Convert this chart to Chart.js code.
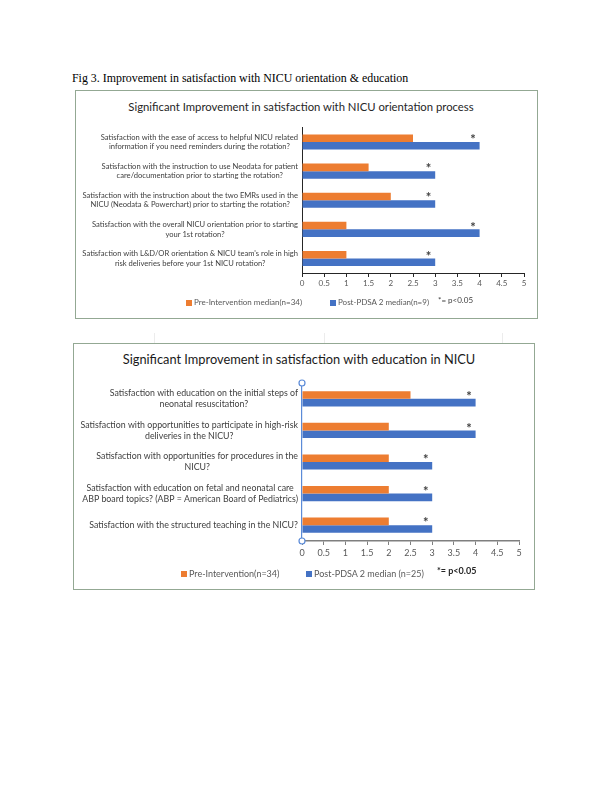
<!DOCTYPE html>
<html>
<head>
<meta charset="utf-8">
<script src="https://cdn.jsdelivr.net/npm/chart.js@4.4.1/dist/chart.umd.min.js"></script>
<style>
  body { margin:0; background:#fff; width:612px; height:792px; position:relative; font-family: Lato, sans-serif; }
  .abs { position:absolute; }
  .caption { left:72px; top:71px; font-family:"Liberation Serif", serif; font-size:11.9px; color:#000; white-space:nowrap; }
  .box { border:1.5px solid #93a893; box-sizing:border-box; }
  .cell { width:1px; height:10px; background:#ececec; top:333px; }
  .title { text-align:center; color:#262626; white-space:nowrap; }
  .leg { color:#595959; white-space:nowrap; }
  .sq { width:6px; height:6px; }
</style>
</head>
<body>
<div class="abs caption">Fig 3. Improvement in satisfaction with NICU orientation &amp; education</div>

<!-- chart 1 -->
<div class="abs box" style="left:75px; top:90px; width:463px; height:229px;"></div>
<div class="abs title" style="left:75px; top:100px; width:452px; font-size:11.3px;">Significant Improvement in satisfaction with NICU orientation process</div>
<div class="abs" style="left:75px; top:90px; width:463px; height:230px;"><canvas id="orientChart"></canvas></div>
<div class="abs sq" style="left:186px; top:300px; background:#ED7D31;"></div>
<div class="abs leg" style="left:194px; top:297px; font-size:8px;">Pre-Intervention median(n=34)</div>
<div class="abs sq" style="left:330px; top:300px; background:#4472C4;"></div>
<div class="abs leg" style="left:338px; top:297px; font-size:8px;">Post-PDSA 2 median(n=9)</div>
<div class="abs leg" style="left:438px; top:295px; font-size:8px; color:#404040;">*= p&lt;0.05</div>

<!-- traits de cellules entre les deux cadres -->
<div class="abs cell" style="left:154px;"></div>
<div class="abs cell" style="left:324px;"></div>
<div class="abs cell" style="left:502px;"></div>

<!-- chart 2 -->
<div class="abs box" style="left:73px; top:343px; width:462px; height:247px;"></div>
<div class="abs title" style="left:73px; top:351px; width:452px; font-size:12.8px; color:#1a1a1a;">Significant Improvement in satisfaction with education in NICU</div>
<div class="abs" style="left:73px; top:344px; width:462px; height:243px;"><canvas id="eduChart"></canvas></div>
<div class="abs sq" style="left:181px; top:571px; background:#ED7D31;"></div>
<div class="abs leg" style="left:189px; top:568px; font-size:9px;">Pre-Intervention(n=34)</div>
<div class="abs sq" style="left:306px; top:571px; background:#4472C4;"></div>
<div class="abs leg" style="left:314px; top:568px; font-size:9px;">Post-PDSA 2 median (n=25)</div>
<div class="abs leg" style="left:437px; top:565px; font-size:9px; color:#262626; font-weight:bold;">*= p&lt;0.05</div>

<script>
// données
const orientLabels = [
  ['Satisfaction with the ease of access to helpful NICU related', 'information if you need reminders during the rotation?'],
  ['Satisfaction with the instruction to use Neodata for patient', 'care/documentation prior to starting the rotation?'],
  ['Satisfaction with the instruction about the two EMRs used in the', 'NICU (Neodata & Powerchart) prior to starting the rotation?'],
  ['Satisfaction with the overall NICU orientation prior to starting', 'your 1st rotation?'],
  ["Satisfaction with L&D/OR orientation & NICU team's role in high", 'risk deliveries before your 1st NICU rotation?']
];
const orientPre = [2.5, 1.5, 2, 1, 1];
const orientPost = [4, 3, 3, 4, 3];

const eduLabels = [
  ['Satisfaction with education on the initial steps of', 'neonatal resuscitation?'],
  ['Satisfaction with opportunities to participate in high-risk', 'deliveries in the NICU?'],
  ['Satisfaction with opportunities for procedures in the', 'NICU?'],
  ['Satisfaction with education on fetal and neonatal care', 'ABP board topics? (ABP = American Board of Pediatrics)'],
  ['Satisfaction with the structured teaching in the NICU?']
];
const eduPre = [2.5, 2, 2, 2, 2];
const eduPost = [4, 4, 3, 3, 3];

const xTicks = [0, 0.5, 1, 1.5, 2, 2.5, 3, 3.5, 4, 4.5, 5];

// libellés des catégories : bloc centré, aligné à droite contre l'axe
const catLabels = {
  id: 'catLabels',
  afterDraw(chart, args, opts) {
    const { ctx, chartArea } = chart;
    const yScale = chart.scales.y;
    ctx.save();
    ctx.font = opts.size + 'px Lato';
    ctx.fillStyle = opts.color;
    ctx.textAlign = 'center';
    ctx.textBaseline = 'middle';
    chart.data.labels.forEach((lines, i) => {
      const w = Math.max(...lines.map(l => ctx.measureText(l).width));
      const cx = chartArea.left - opts.gap - w / 2;
      const cy = yScale.getPixelForValue(i);
      lines.forEach((l, k) => {
        ctx.fillText(l, cx, cy + (k - (lines.length - 1) / 2) * opts.lineH);
      });
    });
    ctx.restore();
  }
};

// astérisques de significativité au bout des barres post
const stars = {
  id: 'stars',
  afterDatasetsDraw(chart, args, opts) {
    const { ctx } = chart;
    const meta = chart.getDatasetMeta(1);
    ctx.save();
    ctx.font = 'bold ' + opts.size + 'px Lato';
    ctx.fillStyle = '#404040';
    ctx.textAlign = 'center';
    ctx.textBaseline = 'middle';
    meta.data.forEach((bar, i) => {
      const v = chart.data.datasets[1].data[i];
      const x = chart.scales.x.getPixelForValue(v - 0.15);
      const y = chart.scales.y.getPixelForValue(i) - opts.dy;
      ctx.fillText('*', x, y);
    });
    ctx.restore();
  }
};

// poignées de sélection sur l'axe vertical (graphique 2)
const handles = {
  id: 'handles',
  afterDraw(chart, args, opts) {
    if (!opts.show) return;
    const { ctx, chartArea } = chart;
    ctx.save();
    ctx.strokeStyle = '#5b8bd8';
    ctx.fillStyle = '#fff';
    ctx.lineWidth = 1.2;
    [chartArea.top, chartArea.bottom].forEach(y => {
      ctx.beginPath();
      ctx.arc(chartArea.left, y, 3, 0, Math.PI * 2);
      ctx.fill();
      ctx.stroke();
    });
    ctx.restore();
  }
};

function build(id, labels, pre, post, o) {
  return new Chart(document.getElementById(id), {
    type: 'bar',
    data: {
      labels: labels,
      datasets: [
        { data: pre, backgroundColor: '#ED7D31', categoryPercentage: o.catPct, barPercentage: 1 },
        { data: post, backgroundColor: '#4472C4', categoryPercentage: o.catPct, barPercentage: 1 }
      ]
    },
    options: {
      indexAxis: 'y',
      responsive: true,
      maintainAspectRatio: false,
      animation: false,
      layout: { padding: o.pad },
      plugins: {
        legend: { display: false },
        tooltip: { enabled: false },
        catLabels: { size: o.labelSize, lineH: o.lineH, gap: 4, color: '#404040' },
        stars: { size: o.starSize, dy: o.starDy },
        handles: { show: o.handles }
      },
      scales: {
        x: {
          min: 0,
          max: 5,
          afterBuildTicks: s => { s.ticks = xTicks.map(v => ({ value: v })); },
          afterFit: s => { s.height = 20; },
          grid: { drawOnChartArea: false, tickLength: o.tickLen, color: o.xColor, lineWidth: 1 },
          border: { color: o.xColor, width: o.xWidth },
          ticks: {
            font: { family: 'Lato', size: o.tickSize }, color: '#595959', padding: o.tickPad,
            maxRotation: 0, autoSkip: false,
            callback: v => String(v)
          }
        },
        y: {
          afterFit: s => { s.width = o.yWidth; },
          ticks: { display: false },
          grid: { display: false },
          border: { color: o.yColor, width: o.yLine }
        }
      }
    },
    plugins: [catLabels, stars, handles]
  });
}

build('orientChart', orientLabels, orientPre, orientPost, {
  catPct: 0.52,
  pad: { left: 0, right: 14, top: 37.5, bottom: 27 },
  yWidth: 227,
  labelSize: 7.6, lineH: 9.5,
  starSize: 13, starDy: 2,
  tickSize: 8, tickLen: 4, tickPad: 2,
  xColor: '#262626', xWidth: 1,
  yColor: '#262626', yLine: 1,
  handles: false
});

build('eduChart', eduLabels, eduPre, eduPost, {
  catPct: 0.48,
  pad: { left: 0, right: 16, top: 39, bottom: 26 },
  yWidth: 229,
  labelSize: 8.8, lineH: 11,
  starSize: 13, starDy: 2,
  tickSize: 9, tickLen: 4, tickPad: 3,
  xColor: '#7f7f7f', xWidth: 1.5,
  yColor: '#5b8bd8', yLine: 1.2,
  handles: true
});
</script>
</body>
</html>
